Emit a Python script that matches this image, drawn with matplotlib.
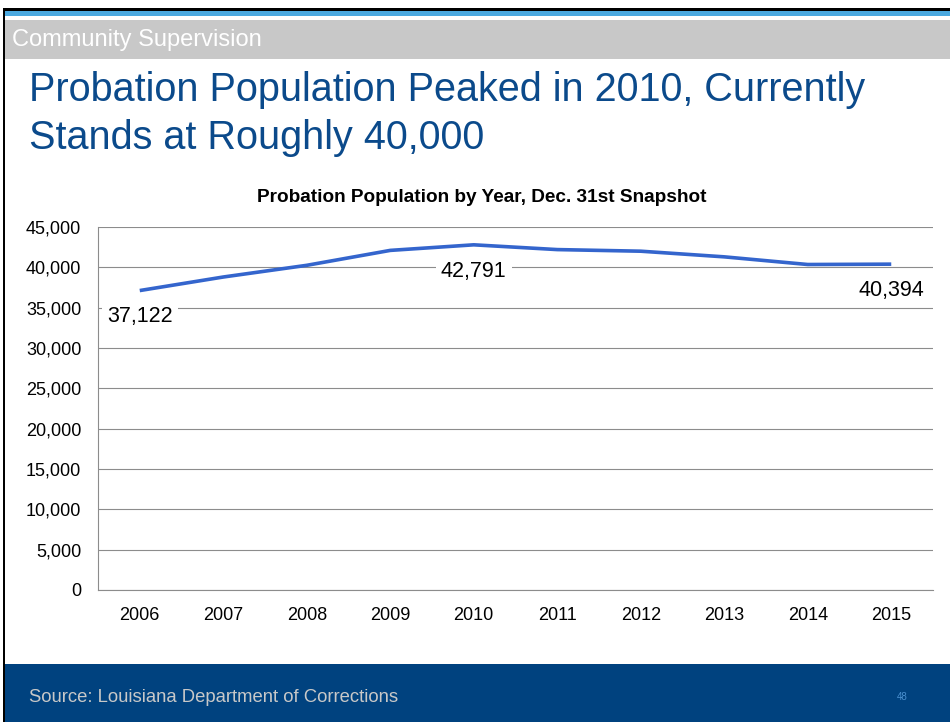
import matplotlib
matplotlib.use("Agg")
import matplotlib.pyplot as plt
from matplotlib.patches import Rectangle
from matplotlib.ticker import FuncFormatter, MultipleLocator

plt.rcParams['font.family'] = ['Liberation Sans', 'DejaVu Sans']

years = ['2006', '2007', '2008', '2009', '2010', '2011', '2012', '2013', '2014', '2015']
population = [37122, 38800, 40250, 42100, 42791, 42200, 42000, 41300, 40350, 40394]
labelled = [0, 4, 9]  # first, peak, latest

slide_title = ["Probation Population Peaked in 2010, Currently",
               "Stands at Roughly 40,000"]
chart_title = "Probation Population by Year, Dec. 31st Snapshot"
section = "Community Supervision"
source = "Source: Louisiana Department of Corrections"
page_no = "48"

W, H = 950, 722
fig = plt.figure(figsize=(W / 100, H / 100), dpi=100)
fig.patch.set_facecolor('white')


def band(x, y, w, h, color):
    # rectangle given in pixels from the top-left corner
    fig.add_artist(Rectangle((x / W, 1 - (y + h) / H), w / W, h / H,
                             transform=fig.transFigure, facecolor=color,
                             edgecolor='none', zorder=0))


# slide frame and header / footer bands
band(3, 8, W - 3, 3, 'black')
band(3, 8, 2, H - 8, 'black')
band(5, 11, W - 5, 5, '#4BA9E0')
band(5, 20, W - 5, 39, '#C8C8C8')
band(5, 664, W - 5, H - 664, '#00427F')

fig.text(12 / W, 1 - 40 / H, section, color='white', fontsize=17, va='center')
for k, line in enumerate(slide_title):
    fig.text(29 / W, 1 - (101 + 48 * k) / H, line, color='#0B4A8B',
             fontsize=28.5, va='baseline')
fig.text(29 / W, 1 - 697 / H, source, color='#C8C8C8', fontsize=13.3, va='center')
fig.text(897 / W, 1 - 697 / H, page_no, color='#4A90D0', fontsize=7, va='center')
fig.text(482 / W, 1 - 198 / H, chart_title, fontsize=13.7, fontweight='bold',
         ha='center', va='center')

ax = fig.add_axes([98 / W, 1 - 590 / H, (933 - 98) / W, (590 - 227) / H])
ax.plot(range(len(years)), population, color='#3465CD', lw=2.6,
        solid_capstyle='butt', zorder=3)

for i in labelled:
    ax.annotate(f"{population[i]:,}", (i, population[i]), xytext=(0, -19),
                textcoords='offset points', ha='center', va='center',
                fontsize=15.5,
                bbox=dict(boxstyle='square,pad=0.25', fc='white', ec='none'),
                zorder=4)

ax.set_xlim(-0.5, len(years) - 0.5)
ax.set_ylim(0, 45000)
ax.set_xticks(range(len(years)))
ax.set_xticklabels(years)
ax.yaxis.set_major_locator(MultipleLocator(5000))
ax.yaxis.set_major_formatter(FuncFormatter(lambda v, p: f"{int(v):,}"))
ax.tick_params(length=0, labelsize=13)
ax.tick_params(axis='y', pad=12)
ax.tick_params(axis='x', pad=12)
ax.grid(axis='y', color='#8C8C8C', lw=0.8)
ax.set_axisbelow(True)
for s in ['top', 'right']:
    ax.spines[s].set_visible(False)
for s in ['left', 'bottom']:
    ax.spines[s].set_color('#8C8C8C')
    ax.spines[s].set_linewidth(0.8)
ax.set_facecolor('none')

fig.savefig('out.png', dpi=100)
